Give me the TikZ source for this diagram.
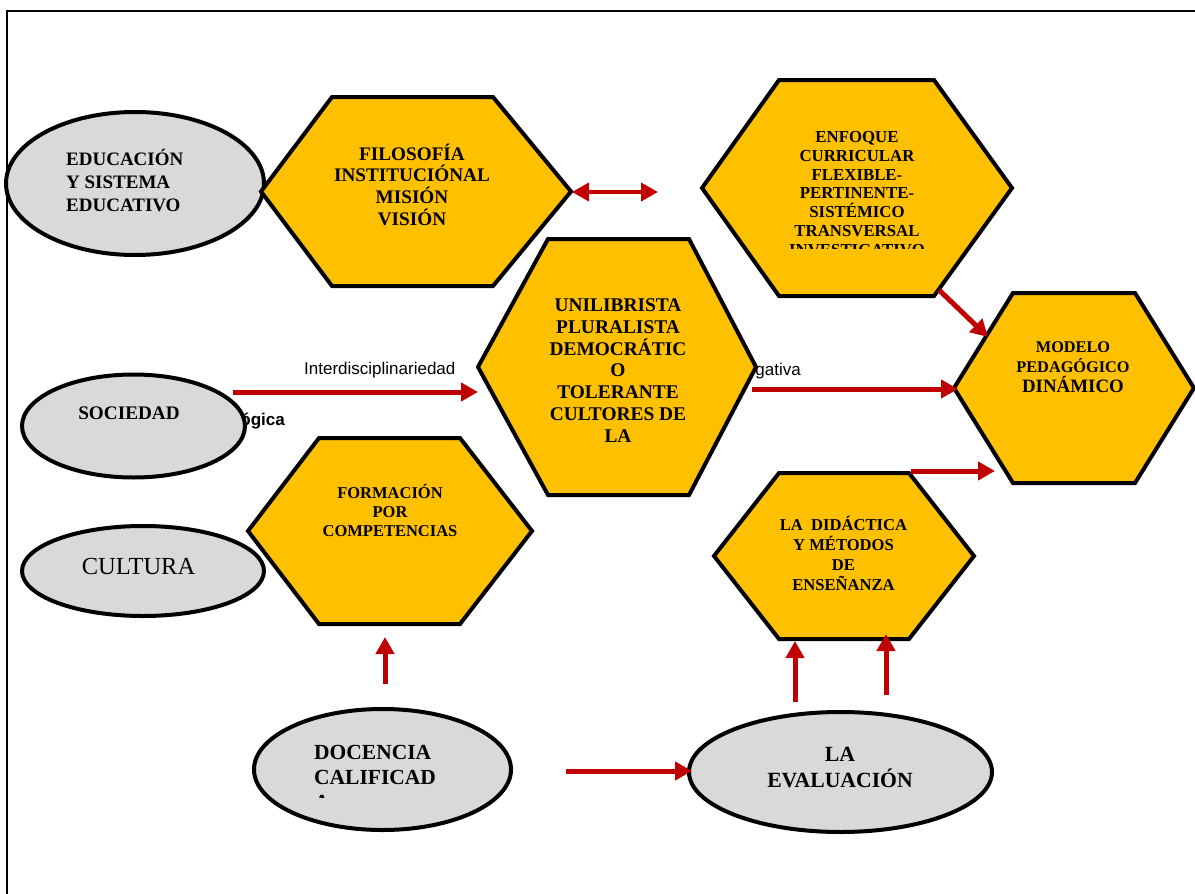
\documentclass[tikz,border=0pt]{standalone}
\usepackage{fontspec}
\setmainfont{Liberation Serif}
\newfontfamily\sansf{Liberation Sans}
\usetikzlibrary{arrows.meta,shapes.geometric}
\definecolor{gold}{HTML}{FFC000}
\definecolor{greyfill}{HTML}{D9D9D9}
\definecolor{darkred}{HTML}{C00000}
\begin{document}
\begin{tikzpicture}[x=1pt,y=-1pt,
  hexs/.style={draw=black, fill=gold, line width=4pt, line join=miter},
  ells/.style={draw=black, fill=greyfill, line width=4pt, ellipse, inner sep=0pt},
  txt/.style={inner sep=0pt, align=center, font=\bfseries},
  lbl/.style={inner sep=0pt, font=\sansf\fontsize{17pt}{20pt}\selectfont},
  arr/.style={draw=darkred, line width=5pt, -{Triangle[length=17pt,width=18pt]}},
  darr/.style={draw=darkred, line width=4pt, {Triangle[length=17pt,width=18pt]}-{Triangle[length=17pt,width=18pt]}}
]
\useasboundingbox (0,0) rectangle (1195,894);
\fill[white] (0,0) rectangle (1195,894);
% frame
\draw[line width=2pt] (7,894) -- (7,11) -- (1195,11);

% partly hidden labels (behind shapes)
\node[lbl, anchor=base east] (lpeda) at (285,425) {\bfseries Pedagógica};
\node[lbl, anchor=base east] (linve) at (801,375) {Investigativa};
\node[lbl, anchor=base west] (linter) at (304,374) {Interdisciplinariedad};

% ellipses
\node[ells, minimum width=258pt, minimum height=143pt] (edu) at (135,183.5) {};
\node[ells, minimum width=223pt, minimum height=103pt] (soc) at (133.5,426) {};
\node[ells, minimum width=242pt, minimum height=90pt] (cul) at (143,571) {};
\node[ells, minimum width=257pt, minimum height=121pt] (doc) at (382.5,769.5) {};
\node[ells, minimum width=303pt, minimum height=120pt] (eva) at (840.5,772) {};

% hexagons
\draw[hexs] (261,191.5) -- (332,97) -- (493,97) -- (571,191.5) -- (493,286) -- (332,286) -- cycle;
\draw[hexs] (702,188) -- (779,80) -- (934,80) -- (1012,188) -- (934,296) -- (779,296) -- cycle;
\draw[hexs] (478,367) -- (548,239) -- (689,239) -- (756,367) -- (689,495) -- (548,495) -- cycle;
\draw[hexs] (954,388) -- (1013,293) -- (1135,293) -- (1194,388) -- (1135,483) -- (1013,483) -- cycle;
\draw[hexs] (248,531) -- (319,438) -- (460,438) -- (532,531) -- (460,624) -- (319,624) -- cycle;
\draw[hexs] (714,556) -- (779,473) -- (909,473) -- (974,556) -- (909,639) -- (779,639) -- cycle;

% texts in ellipses
\node[txt, align=left, anchor=west, font=\bfseries\fontsize{19pt}{23pt}\selectfont] (edut) at (66,180) {EDUCACIÓN\\Y SISTEMA\\EDUCATIVO};
\node[txt, font=\bfseries\fontsize{19.2pt}{23pt}\selectfont] (soct) at (129,413) {SOCIEDAD};
\node[inner sep=0pt, font=\fontsize{24.5pt}{28pt}\selectfont] (cult) at (138.5,567) {CULTURA};
\begin{scope}
\clip (300,700) rectangle (500,797.5);
\node[txt, align=left, anchor=west, font=\bfseries\fontsize{21.5pt}{25pt}\selectfont] (doct) at (314,777) {DOCENCIA\\CALIFICAD\\A};
\end{scope}
\node[txt, font=\bfseries\fontsize{21.7pt}{26pt}\selectfont] (evat) at (840,767) {LA\\EVALUACIÓN};

% texts in hexagons
\node[txt, font=\bfseries\fontsize{19.2pt}{21.7pt}\selectfont] (filt) at (412,184.5) {FILOSOFÍA\\INSTITUCIÓNAL\\MISIÓN\\VISIÓN};
\begin{scope}
\clip (700,80) rectangle (1015,248.5);
\node[txt, font=\bfseries\fontsize{16.8pt}{18.9pt}\selectfont] (enft) at (857,193.5) {ENFOQUE\\CURRICULAR\\FLEXIBLE-\\PERTINENTE-\\SISTÉMICO\\TRANSVERSAL\\INVESTIGATIVO};
\end{scope}
\node[txt, font=\bfseries\fontsize{19.4pt}{21.8pt}\selectfont] (unit) at (618,370.5) {UNILIBRISTA\\PLURALISTA\\DEMOCRÁTIC\\O\\TOLERANTE\\CULTORES DE\\LA};
\node[txt, font=\bfseries\fontsize{16.3pt}{20pt}\selectfont] (modt) at (1073,367.5) {MODELO\\PEDAGÓGICO\\{\fontsize{18.9pt}{20pt}\selectfont DINÁMICO}};
\node[txt, font=\bfseries\fontsize{16.5pt}{19pt}\selectfont] (fort) at (390,510) {FORMACIÓN\\POR\\COMPETENCIAS};
\node[txt, font=\bfseries\fontsize{16.6pt}{20.3pt}\selectfont] (didt) at (843.5,553.5) {LA\ \ DIDÁCTICA\\Y MÉTODOS\\DE\\ENSEÑANZA};

% connector end points
\coordinate (a1s) at (233,392);  \coordinate (a1e) at (478,392);
\coordinate (a2s) at (752,389);  \coordinate (a2e) at (958,389);
\coordinate (a3s) at (939,290);  \coordinate (a3e) at (988,337);
\coordinate (a4s) at (911,471);  \coordinate (a4e) at (995,471);
\coordinate (a5s) at (385,684);  \coordinate (a5e) at (385,637);
\coordinate (a6s) at (795,702);  \coordinate (a6e) at (795,641);
\coordinate (a7s) at (886,695);  \coordinate (a7e) at (886,634);
\coordinate (a8s) at (566,771);  \coordinate (a8e) at (692,771);
\coordinate (d1) at (572,192);   \coordinate (d2) at (658,192);

\draw[arr] (a1s) -- (a1e);
\draw[arr] (a2s) -- (a2e);
\draw[arr] (a3s) -- (a3e);
\draw[arr] (a4s) -- (a4e);
\draw[arr] (a5s) -- (a5e);
\draw[arr] (a6s) -- (a6e);
\draw[arr] (a7s) -- (a7e);
\draw[arr] (a8s) -- (a8e);
\draw[darr] (d1) -- (d2);
\end{tikzpicture}
\end{document}
